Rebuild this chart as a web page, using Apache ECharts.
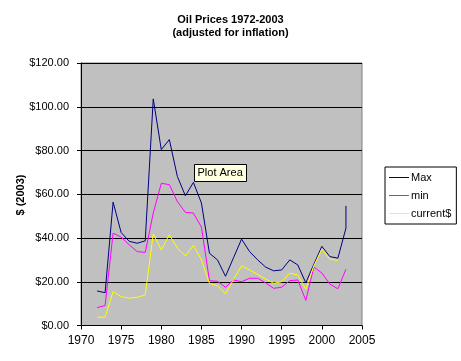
<!DOCTYPE html>
<html>
<head>
<meta charset="utf-8">
<script src="https://cdn.jsdelivr.net/npm/echarts@6/dist/echarts.min.js"></script>
<style>html,body{margin:0;padding:0;background:#fff;}#c{width:461px;height:361px;}</style>
</head>
<body>
<div id="c"></div>
<script>
var years = [1972,1973,1974,1975,1976,1977,1978,1979,1980,1981,1982,1983,1984,1985,1986,1987,1988,1989,1990,1991,1992,1993,1994,1995,1996,1997,1998,1999,2000,2001,2002,2003];
var maxVals = [15.8,15.0,56.4,42.5,38.5,37.6,38.7,103.6,80.4,85.0,68.2,59.3,65.4,56.0,33.0,30.0,22.5,31.0,39.5,33.8,30.0,26.7,25.0,25.4,30.0,27.7,19.5,28.0,36.2,31.5,30.8,44.5];
var maxLast = [2003, 54.7];
var minVals = [8.2,9.1,42.2,40.4,36.9,33.8,33.4,51.4,65.0,64.4,56.7,51.7,51.4,45.0,20.5,20.2,17.5,20.8,20.0,21.6,21.6,19.5,17.0,17.5,20.5,20.8,11.5,26.7,24.0,18.9,16.8,25.7];
var currentVals = [3.8,3.8,15.5,13.2,12.5,12.9,14.0,41.9,34.6,41.5,35.4,31.8,36.6,30.0,19.3,18.1,14.4,21.0,27.3,25.4,23.4,21.2,19.3,20.0,23.9,23.1,16.6,27.3,34.9,30.3,29.7];
var xTicks = [1970, 2005, 5];
var yTicks = [0, 120, 20];
var yTitle = '$ (2003)';

function pairs(xs, vs){ var out=[]; for(var i=0;i<vs.length;i++){ out.push([xs[i], vs[i]]); } return out; }
var maxData = pairs(years, maxVals); maxData.push(maxLast);

var chart = echarts.init(document.getElementById('c'), null, {renderer:'canvas'});
var font = 'Arial, "Liberation Sans", sans-serif';
chart.setOption({
  animation: false,
  backgroundColor: '#ffffff',
  title: {
    text: 'Oil Prices 1972-2003\n(adjusted for inflation)',
    left: 'center', top: 8,
    textStyle: {fontFamily: font, fontSize: 11, fontWeight: 'bold', color: '#000', lineHeight: 13}
  },
  grid: {left: 81, right: 99, top: 63, bottom: 35.5, show: true, backgroundColor: '#c0c0c0', borderColor: '#808080', borderWidth: 1},
  legend: {
    left: 385, top: 167, orient: 'vertical',
    borderColor: '#000', borderWidth: 1, padding: [4, 5, 4, 4],
    icon: 'rect', itemWidth: 20, itemHeight: 1, itemGap: 5,
    textStyle: {fontFamily: font, fontSize: 11, color: '#000', padding: [0,0,0,-3], lineHeight: 13},
    data: ['Max', 'min', 'current$']
  },
  xAxis: {
    type: 'value', min: xTicks[0], max: xTicks[1], interval: xTicks[2],
    axisLine: {show: true, onZero: false, lineStyle: {color: '#000'}},
    axisTick: {show: true, inside: false, length: 4, lineStyle: {color: '#000'}},
    axisLabel: {fontFamily: font, fontSize: 12, color: '#000', margin: 9,
      formatter: function(v){ return String(v); }},
    splitLine: {show: false}
  },
  yAxis: {
    type: 'value', min: yTicks[0], max: yTicks[1], interval: yTicks[2],
    axisLine: {show: true, lineStyle: {color: '#000'}},
    axisTick: {show: true, inside: false, length: 4, lineStyle: {color: '#000'}},
    axisLabel: {fontFamily: font, fontSize: 11, color: '#000', margin: 12,
      formatter: function(v){ return '$' + v.toFixed(2); }},
    splitLine: {show: true, lineStyle: {color: '#000', width: 1}}
  },
  series: [
    {name: 'Max', type: 'line', data: maxData, symbol: 'none', lineStyle: {color: '#000080', width: 1}, itemStyle: {color: '#000080'}},
    {name: 'min', type: 'line', data: pairs(years, minVals), symbol: 'none', lineStyle: {color: '#ff00ff', width: 1}, itemStyle: {color: '#ff00ff'}},
    {name: 'current$', type: 'line', data: pairs(years, currentVals), symbol: 'none', lineStyle: {color: '#ffff00', width: 1}, itemStyle: {color: '#ffff00'}}
  ],
  graphic: [
    {type: 'text', x: 21, y: 195, rotation: Math.PI / 2, z: 100,
      style: {text: yTitle, fontFamily: font, fontSize: 11, fontWeight: 'bold', fill: '#000', textAlign: 'center', textVerticalAlign: 'middle'}},
    {type: 'group', left: 194, top: 164, z: 100, children: [
      {type: 'rect', shape: {x: 0, y: 0, width: 52, height: 17}, style: {fill: '#ffffe1', stroke: '#000', lineWidth: 1}},
      {type: 'text', x: 3, y: 3, style: {text: 'Plot Area', fontFamily: font, fontSize: 11, fill: '#000'}}
    ]}
  ]
});
</script>
</body>
</html>
